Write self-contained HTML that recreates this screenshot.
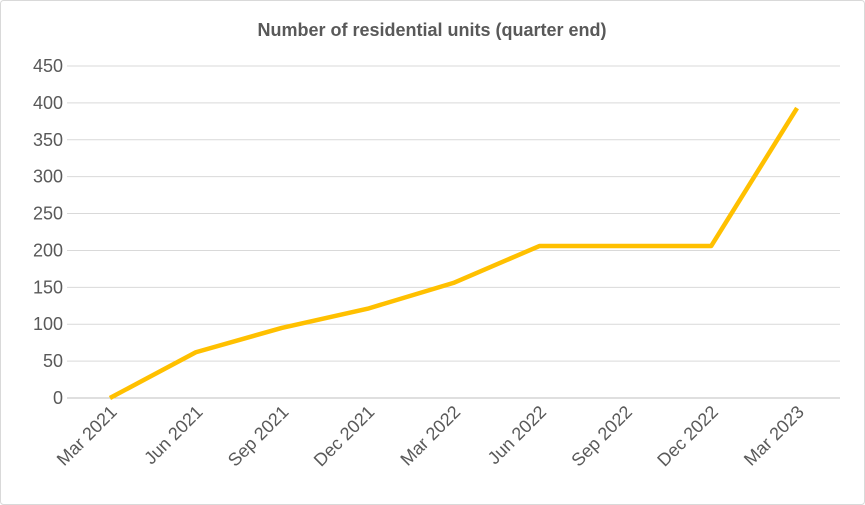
<!DOCTYPE html>
<html><head><meta charset="utf-8"><style>
body{margin:0;background:#fff;}
svg{display:block;font-family:"Liberation Sans",Arial,sans-serif;}
</style></head><body>
<svg width="865" height="505" viewBox="0 0 865 505">
<rect x="0.5" y="0.5" width="864" height="504" rx="3" fill="#fff" stroke="#d9d9d9"/>
<text x="432" y="36" text-anchor="middle" font-size="18" font-weight="bold" fill="#595959">Number of residential units (quarter end)</text>
<g id="grid"></g><g id="yticks"></g><g id="xticks"></g>
<path id="line" fill="none" stroke="#FFC000" stroke-width="4.5" stroke-linejoin="round"/>
</svg>
<script>
const categories=["Mar 2021","Jun 2021","Sep 2021","Dec 2021","Mar 2022","Jun 2022","Sep 2022","Dec 2022","Mar 2023"];
const values=[0,62,95,121,156,206,206,206,393];
const yTicks=[0,50,100,150,200,250,300,350,400,450];
const NS="http://www.w3.org/2000/svg";
const x0=67,x1=840,y0=398,y1=66,yMax=450;
const band=(x1-x0)/categories.length;
const xs=i=>x0+band*(i+0.5);
const ys=v=>y0-(v/yMax)*(y0-y1);
const grid=document.getElementById('grid'),yt=document.getElementById('yticks'),xt=document.getElementById('xticks');
yTicks.forEach(t=>{
 const l=document.createElementNS(NS,'line');
 l.setAttribute('x1',x0);l.setAttribute('x2',x1);l.setAttribute('y1',ys(t));l.setAttribute('y2',ys(t));
 l.setAttribute('stroke',t===0?'#bfbfbf':'#d9d9d9');l.setAttribute('stroke-width','1');
 
 
 grid.appendChild(l);
 const tx=document.createElementNS(NS,'text');
 tx.setAttribute('x',63);tx.setAttribute('y',ys(t)+6);tx.setAttribute('text-anchor','end');
 tx.setAttribute('font-size','18');tx.setAttribute('fill','#595959');tx.textContent=t;
 
 
 yt.appendChild(tx);
});
categories.forEach((c,i)=>{
 const tx=document.createElementNS(NS,'text');
 const x=xs(i)+8,y=413;
 tx.setAttribute('x',x);tx.setAttribute('y',y);tx.setAttribute('text-anchor','end');
 tx.setAttribute('transform','rotate(-45 '+x+' '+y+')');
 tx.setAttribute('font-size','18');tx.setAttribute('fill','#595959');tx.textContent=c;
 
 
 xt.appendChild(tx);
});
document.getElementById('line').setAttribute('d',values.map((v,i)=>(i?'L':'M')+xs(i)+' '+ys(v)).join(' '));
</script>
</body></html>
